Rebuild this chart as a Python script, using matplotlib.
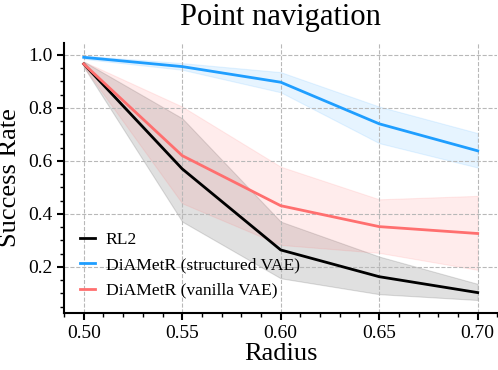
import matplotlib
matplotlib.use("Agg")
import matplotlib.pyplot as plt
from matplotlib.ticker import MultipleLocator, FormatStrFormatter

radius = [0.50, 0.55, 0.60, 0.65, 0.70]

rl2_mean = [0.966, 0.570, 0.264, 0.163, 0.103]
rl2_low = [0.955, 0.371, 0.157, 0.097, 0.075]
rl2_high = [0.975, 0.761, 0.371, 0.239, 0.136]

struct_mean = [0.991, 0.956, 0.897, 0.740, 0.638]
struct_low = [0.985, 0.944, 0.859, 0.667, 0.575]
struct_high = [0.997, 0.969, 0.935, 0.805, 0.705]

vanilla_mean = [0.966, 0.620, 0.431, 0.352, 0.326]
vanilla_low = [0.955, 0.440, 0.283, 0.253, 0.189]
vanilla_high = [0.975, 0.805, 0.578, 0.455, 0.468]

labels = ["RL2", "DiAMetR (structured VAE)", "DiAMetR (vanilla VAE)"]
colors = ["black", "#1f9eff", "#ff6f6f"]

plt.rcParams['font.family'] = ['Liberation Serif', 'DejaVu Serif']

fig = plt.figure(figsize=(4.98, 3.70), dpi=100)
W, H = 498, 370
ax = fig.add_axes([64 / W, (H - 313) / H, 433.4 / W, 270 / H])

series = [
    (rl2_mean, rl2_low, rl2_high, 0.12),
    (struct_mean, struct_low, struct_high, 0.11),
    (vanilla_mean, vanilla_low, vanilla_high, 0.13),
]
for (m, lo, hi, a), lab, c in zip(series, labels, colors):
    ax.fill_between(radius, lo, hi, color=c, alpha=a, linewidth=0.8)
for (m, lo, hi, a), lab, c in zip(series, labels, colors):
    ax.plot(radius, m, color=c, linewidth=2.0, label=lab, zorder=3)

ax.set_xlim(0.49, 0.71)
ax.set_ylim(0.026, 1.045)
ax.xaxis.set_major_locator(MultipleLocator(0.05))
ax.xaxis.set_minor_locator(MultipleLocator(0.01))
ax.yaxis.set_major_locator(MultipleLocator(0.2))
ax.yaxis.set_minor_locator(MultipleLocator(0.05))
ax.xaxis.set_major_formatter(FormatStrFormatter('%.2f'))
ax.yaxis.set_major_formatter(FormatStrFormatter('%.1f'))
ax.set_yticks([0.2, 0.4, 0.6, 0.8, 1.0])

for s in ['top', 'right']:
    ax.spines[s].set_visible(False)
for s in ['left', 'bottom']:
    ax.spines[s].set_linewidth(1.5)

ax.tick_params(which='major', direction='out', length=5, width=1.5, labelsize=14)
ax.tick_params(which='minor', direction='out', length=3, width=1.0)
ax.grid(True, which='major', linestyle='--', color='#b8b8b8', linewidth=0.8)

ax.set_title("Point navigation", fontsize=22, pad=13)
ax.set_xlabel("Radius", fontsize=19, labelpad=1)
ax.set_ylabel("Success Rate", fontsize=19, labelpad=5)

ax.legend(loc='lower left', frameon=False, fontsize=12.6, handlelength=0.85,
          handletextpad=0.63, labelspacing=0.53, bbox_to_anchor=(0.0, -0.006))

fig.savefig("out.png", dpi=100)
